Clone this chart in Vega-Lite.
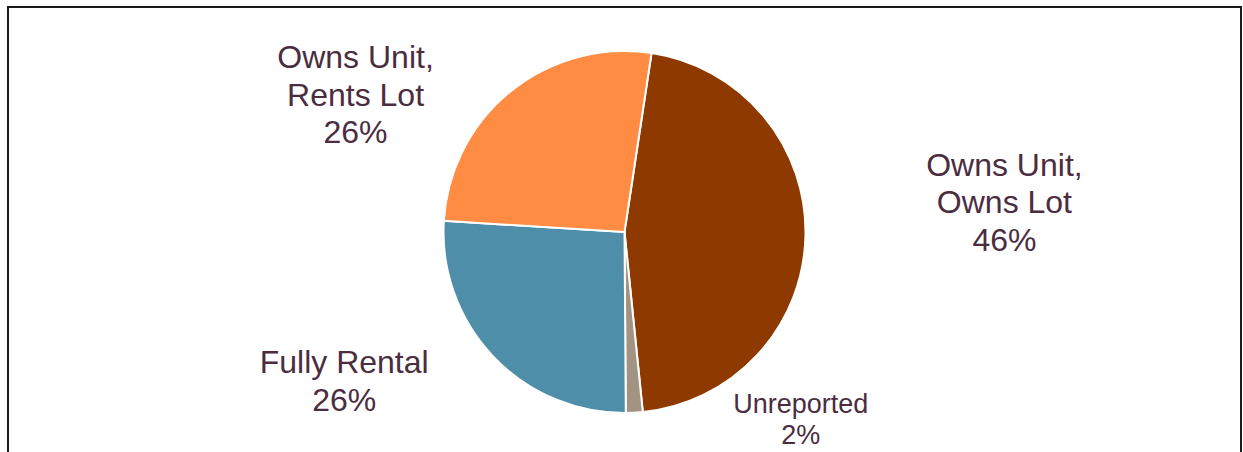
{
  "$schema": "https://vega.github.io/schema/vega-lite/v6.json",
  "width": 1233,
  "height": 450,
  "autosize": {"type": "none"},
  "padding": {"left": 8, "top": 7, "right": 2, "bottom": 0},
  "background": "white",
  "config": {"view": {"stroke": null}},
  "data": {"values": [
    {"category": "Owns Unit, Owns Lot", "share": 46.0, "ord": 1, "label": "Owns Unit,\nOwns Lot\n46%"},
    {"category": "Unreported", "share": 1.5, "ord": 2, "label": "Unreported\n2%"},
    {"category": "Fully Rental", "share": 26.1, "ord": 3, "label": "Fully Rental\n26%"},
    {"category": "Owns Unit, Rents Lot", "share": 26.4, "ord": 4, "label": "Owns Unit,\nRents Lot\n26%"}
  ]},
  "layer": [
    {
      "mark": {"type": "rect", "fill": null, "stroke": "#1a1a1a", "strokeWidth": 2},
      "encoding": {}
    },
    {
      "mark": {"type": "arc", "outerRadius": 181, "stroke": "white", "strokeWidth": 2},
      "encoding": {
        "theta": {"field": "share", "type": "quantitative", "stack": true, "scale": {"range": [0.150, 6.433]}},
        "order": {"field": "ord", "type": "quantitative"},
        "color": {"field": "category", "type": "nominal", "legend": null,
          "scale": {"domain": ["Owns Unit, Owns Lot", "Unreported", "Fully Rental", "Owns Unit, Rents Lot"],
                    "range": ["#8E3900", "#A39383", "#4F8EA8", "#FF8C42"]}}
      }
    },
    {
      "mark": {"type": "text", "radius": 280, "dx": 100, "dy": -73, "lineBreak": "\n", "lineHeight": 37.5, "font": "Liberation Sans", "fontSize": 32, "color": "#4B2D3F", "align": "center", "baseline": "middle"},
      "encoding": {
        "theta": {"field": "share", "type": "quantitative", "stack": true},
        "order": {"field": "ord", "type": "quantitative"},
        "text": {"condition": {"test": "datum.category === 'Owns Unit, Owns Lot'", "field": "label"}, "value": ""}
      }
    },
    {
      "mark": {"type": "text", "radius": 280, "dx": 161, "dy": -107, "lineBreak": "\n", "lineHeight": 31, "font": "Liberation Sans", "fontSize": 27, "color": "#4B2D3F", "align": "center", "baseline": "middle"},
      "encoding": {
        "theta": {"field": "share", "type": "quantitative", "stack": true},
        "order": {"field": "ord", "type": "quantitative"},
        "text": {"condition": {"test": "datum.category === 'Unreported'", "field": "label"}, "value": ""}
      }
    },
    {
      "mark": {"type": "text", "radius": 280, "dx": -77, "dy": -61, "lineBreak": "\n", "lineHeight": 37.5, "font": "Liberation Sans", "fontSize": 32, "color": "#4B2D3F", "align": "center", "baseline": "middle"},
      "encoding": {
        "theta": {"field": "share", "type": "quantitative", "stack": true},
        "order": {"field": "ord", "type": "quantitative"},
        "text": {"condition": {"test": "datum.category === 'Fully Rental'", "field": "label"}, "value": ""}
      }
    },
    {
      "mark": {"type": "text", "radius": 280, "dx": -93, "dy": 44, "lineBreak": "\n", "lineHeight": 37.5, "font": "Liberation Sans", "fontSize": 32, "color": "#4B2D3F", "align": "center", "baseline": "middle"},
      "encoding": {
        "theta": {"field": "share", "type": "quantitative", "stack": true},
        "order": {"field": "ord", "type": "quantitative"},
        "text": {"condition": {"test": "datum.category === 'Owns Unit, Rents Lot'", "field": "label"}, "value": ""}
      }
    }
  ]
}
